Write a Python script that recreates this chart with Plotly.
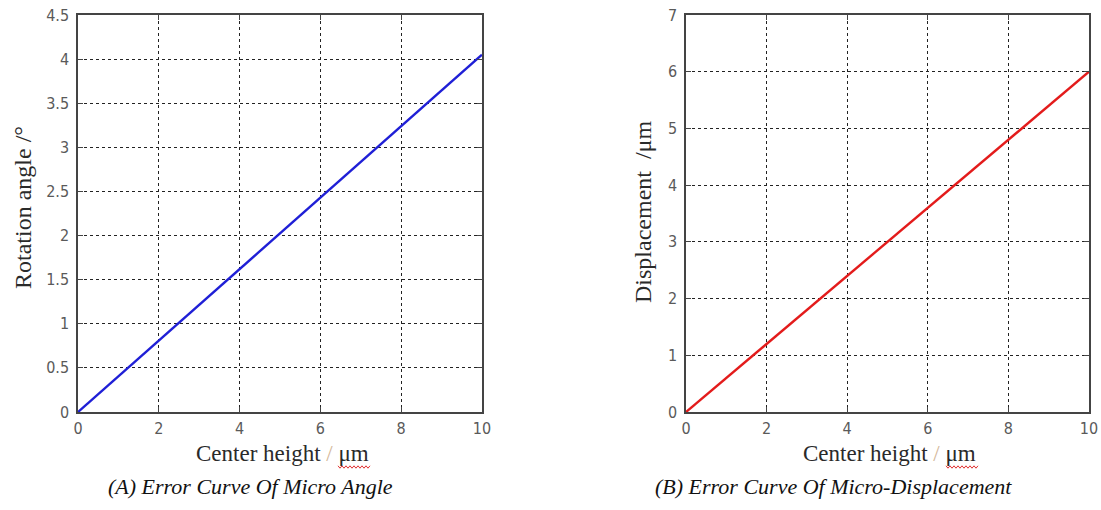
import plotly.graph_objects as go

# ---- data ----
center_height = [0, 2, 4, 6, 8, 10]
rotation_angle = [0, 0.81, 1.62, 2.43, 3.24, 4.05]
displacement = [0, 1.2, 2.4, 3.6, 4.8, 6.0]

x_ticks = [0, 2, 4, 6, 8, 10]
angle_ticks = [0, 0.5, 1, 1.5, 2, 2.5, 3, 3.5, 4, 4.5]
angle_ticklabels = ["0", "0.5", "1", "1.5", "2", "2.5", "3", "3.5", "4", "4.5"]
disp_ticks = [0, 1, 2, 3, 4, 5, 6, 7]

W, H = 1101, 510
def px(x): return x / W
def py(y): return 1 - y / H

fig = go.Figure()
fig.add_trace(go.Scatter(x=center_height, y=rotation_angle, mode="lines",
                         line=dict(color="#1f1fd6", width=2.4), xaxis="x", yaxis="y",
                         showlegend=False))
fig.add_trace(go.Scatter(x=center_height, y=displacement, mode="lines",
                         line=dict(color="#e31b1b", width=2.4), xaxis="x2", yaxis="y2",
                         showlegend=False))

tickfont = dict(family="DejaVu Sans Condensed, Liberation Sans Narrow, Liberation Sans",
                size=16, color="#5a5a5a")
common = dict(showline=True, mirror="ticks", linecolor="#444444", linewidth=1.5,
              ticks="inside", ticklen=5, tickcolor="#444444", automargin=False,
              showgrid=True, gridcolor="#222222", gridwidth=1, griddash="3px,3px",
              zeroline=False, tickfont=tickfont, fixedrange=True)

fig.update_layout(
    template="none",
    width=W, height=H, margin=dict(l=0, r=0, t=0, b=0, pad=0),
    paper_bgcolor="white", plot_bgcolor="white",
    xaxis=dict(domain=[px(78), px(482)], range=[0, 10], tickvals=x_ticks,
               anchor="y", ticklabelstandoff=1, **common),
    yaxis=dict(domain=[py(412), py(15)], range=[0, 4.5], tickvals=angle_ticks,
               ticktext=angle_ticklabels, anchor="x", ticklabelstandoff=4, **common),
    xaxis2=dict(domain=[px(686), px(1089)], range=[0, 10], tickvals=x_ticks,
                anchor="y2", ticklabelstandoff=1, **common),
    yaxis2=dict(domain=[py(412), py(15)], range=[0, 7], tickvals=disp_ticks,
                anchor="x2", ticklabelstandoff=4, **common),
)

serif = "Liberation Serif, Times New Roman"
title_font = dict(family=serif, size=23, color="#2a2a2a")
ylab_font = dict(family=serif, size=24, color="#2a2a2a")
cap_font = dict(family=serif, size=22, color="#111111")
slash = "<span style='color:#d4b89a'>/</span>"

ann = [
    dict(x=px(282), y=py(453), text=f"Center height {slash} μm", font=title_font),
    dict(x=px(890), y=py(453), text=f"Center height {slash} μm", font=title_font),
    dict(x=px(23), y=py(208), text="Rotation angle /°", font=ylab_font, textangle=-90),
    dict(x=px(643), y=py(212), text="Displacement  /μm", font=ylab_font, textangle=-90),
    dict(x=px(250), y=py(486), text="<i>(A) Error Curve Of Micro Angle</i>", font=cap_font),
    dict(x=px(833), y=py(486), text="<i>(B) Error Curve Of Micro-Displacement</i>", font=cap_font),
]
for a in ann:
    fig.add_annotation(xref="paper", yref="paper", showarrow=False,
                       xanchor="center", yanchor="middle", **a)

# red wavy spell-check underline under "μm"
def wavy(x0, x1, y):
    pts = []
    x = x0
    k = 0
    while x <= x1:
        pts.append((px(x), py(y + (1.2 if k % 2 else -1.2))))
        x += 2
        k += 1
    return "M " + " L ".join(f"{a:.5f},{b:.5f}" for a, b in pts)

for x0, x1 in [(338, 370), (946, 978)]:
    fig.add_shape(type="path", xref="paper", yref="paper", path=wavy(x0, x1, 467),
                  line=dict(color="#e03030", width=1))

fig.write_html("out.html", config={"displayModeBar": False},
               post_script="document.body.style.margin='0';document.body.style.overflow='hidden';")
